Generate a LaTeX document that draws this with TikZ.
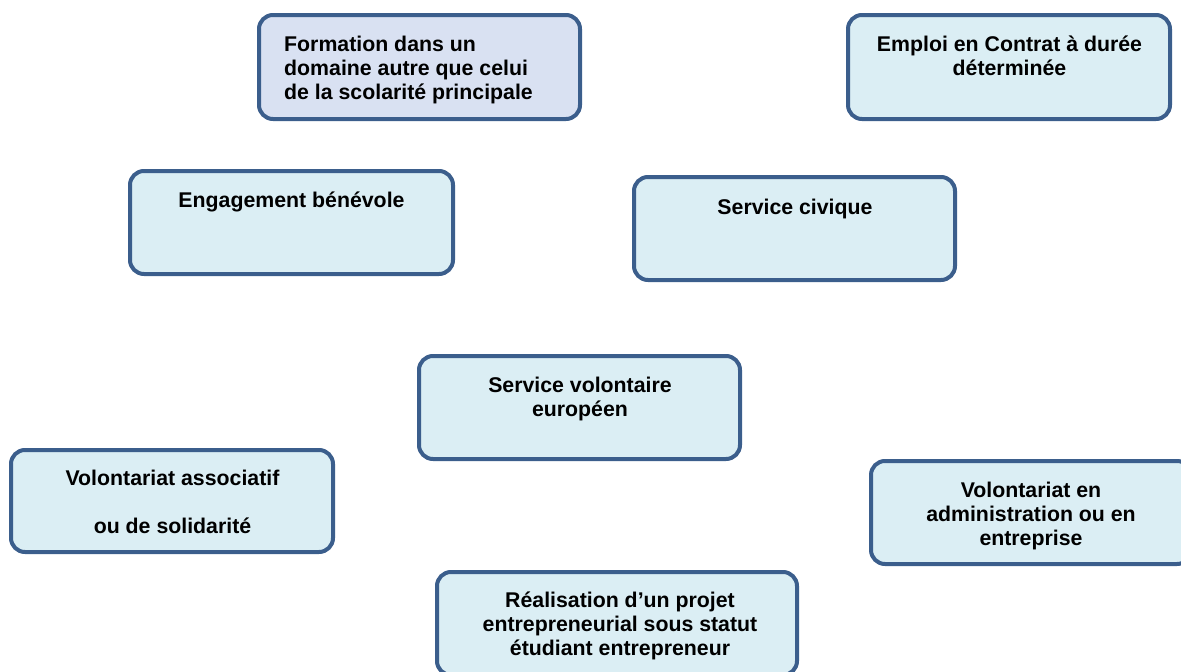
\documentclass[tikz,border=0pt]{standalone}
\usepackage{fontspec}
\setmainfont{Liberation Sans}
\definecolor{bord}{HTML}{3B5E8C}
\definecolor{fillb}{HTML}{DBEEF4}
\definecolor{fillv}{HTML}{D9E1F2}
\newcommand\firststrut{\rule{0pt}{22pt}}
\begin{document}
\begin{tikzpicture}[x=1pt,y=-1pt,
  box/.style={draw=bord, line width=4pt, fill=fillb, rounded corners=14pt, rectangle, inner sep=0pt},
  txt/.style={font=\fontsize{21.3}{24}\selectfont\bfseries, inner sep=0pt, align=center, anchor=north}]
\useasboundingbox (0,0) rectangle (1181,672);
% boxes
\node[box, fill=fillv, minimum width=321pt, minimum height=104pt] (b1) at (419.5,67) {};
\node[box, minimum width=322pt, minimum height=104pt] (b2) at (1009,67) {};
\node[box, minimum width=323pt, minimum height=103pt] (b3) at (291.5,222.5) {};
\node[box, minimum width=321pt, minimum height=103pt] (b4) at (794.5,228.5) {};
\node[box, minimum width=321pt, minimum height=103pt] (b5) at (579.5,407.5) {};
\node[box, minimum width=322pt, minimum height=102pt] (b6) at (172,501) {};
\node[box, minimum width=320pt, minimum height=103pt] (b7) at (1031,512.5) {};
\node[box, minimum width=360pt, minimum height=103pt] (b8) at (617,623.5) {};
% texts
\node[txt, align=left, anchor=north west] (t1) at (284,29) {\firststrut Formation dans un\\domaine autre que celui\\de la scolarité principale};
\node[txt] (t2) at (1009.5,29) {\firststrut Emploi en Contrat à durée\\déterminée};
\node[txt] (t3) at (291.5,185) {\firststrut Engagement bénévole};
\node[txt] (t4) at (795,192) {\firststrut Service civique};
\node[txt] (t5) at (580,370) {\firststrut Service volontaire\\européen};
\node[txt] (t6) at (172.5,463) {\firststrut Volontariat associatif\\\mbox{}\\ou de solidarité};
\node[txt] (t7) at (1031,475) {\firststrut Volontariat en\\administration ou en\\entreprise};
\node[txt] (t8) at (620,585) {\firststrut Réalisation d’un projet\\entrepreneurial sous statut\\étudiant entrepreneur};
\end{tikzpicture}
\end{document}
